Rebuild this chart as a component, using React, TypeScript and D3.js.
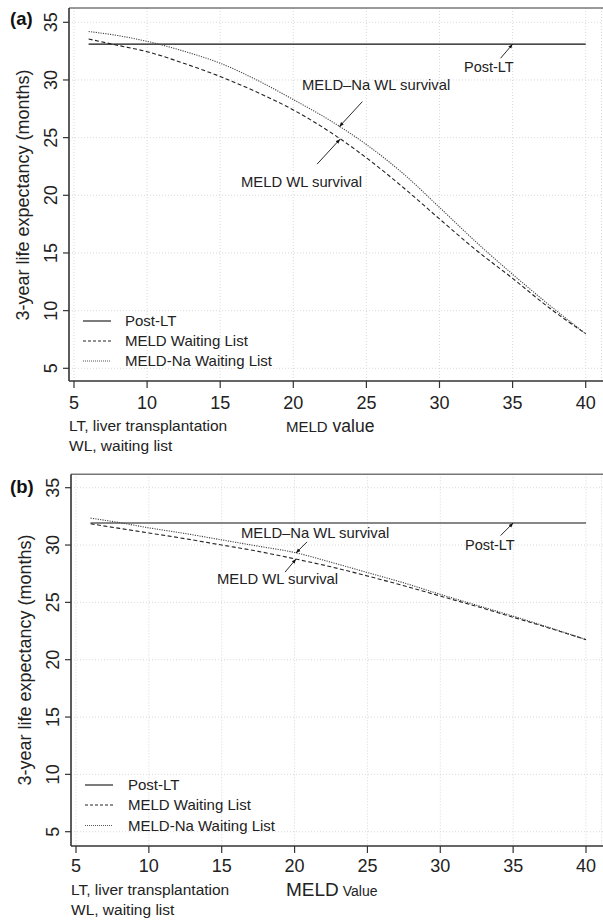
import React from "react";
import * as d3 from "d3";

// ---------------- DATA ----------------
const meldValues = [6, 8, 10, 12.5, 15, 17.5, 20, 22.5, 25, 27.5, 30, 32.5, 35, 37.5, 40];
const postLtMeld = [6, 40];

// Panel (a)
const postLtA = [33.1, 33.1];
const meldWlA = [33.55, 33.0, 32.45, 31.45, 30.3, 28.95, 27.4, 25.5, 23.25, 20.7, 17.95, 15.25, 12.8, 10.25, 8.0];
const meldNaA = [34.2, 33.85, 33.35, 32.5, 31.45, 30.0, 28.3, 26.5, 24.4, 21.9, 18.95, 15.95, 13.15, 10.5, 8.0];

// Panel (b)
const postLtB = [31.92, 31.92];
const meldWlB = [31.85, 31.45, 31.05, 30.55, 30.0, 29.45, 28.8, 28.1, 27.3, 26.45, 25.55, 24.65, 23.7, 22.75, 21.75];
const meldNaB = [32.35, 31.95, 31.5, 31.0, 30.45, 29.9, 29.35, 28.5, 27.6, 26.7, 25.7, 24.75, 23.8, 22.8, 21.75];

const xTicks = [5, 10, 15, 20, 25, 30, 35, 40];
const yTicks = [5, 10, 15, 20, 25, 30, 35];
const legendLabels = ["Post-LT", "MELD Waiting List", "MELD-Na Waiting List"];
const yTitle = "3-year life expectancy (months)";
const noteLines = ["LT, liver transplantation", "WL, waiting list"];

const FONT = "Liberation Sans, Arial, Helvetica, sans-serif";

type Cfg = {
  tag: string;
  post: number[];
  wl: number[];
  na: number[];
  xr: [number, number];
  yr: [number, number];
  fL: number; fT: number; fB: number;
  xlab: [string, number, string, number];
  xlabBase: number;
  tickBase: number;
  yTickX: number;
  yTitleX: number; yTitleY: number;
  tagBase: number;
  noteBase: [number, number];
  legX: number; legTextX: number; legY: number[];
  ann: {
    post: { tx: number; lx: number; ly: number; dx: number; dy: number };
    na: { at: number; text: [number, number]; dx: number; dy: number };
    wl: { at: number; text: [number, number]; dx: number; dy: number };
  };
};

const cfgA: Cfg = {
  tag: "(a)", post: postLtA, wl: meldWlA, na: meldNaA,
  xr: [74, 585.7], yr: [368.3, 22.3], fL: 69, fT: 8, fB: 381,
  xlab: ["MELD", 15, "value", 17.5], xlabBase: 431.5, tickBase: 408.5,
  yTickX: 57, yTitleX: 29, yTitleY: 195, tagBase: 25,
  noteBase: [431, 450.5],
  legX: 83, legTextX: 125, legY: [321, 341, 361],
  ann: {
    post: { tx: 35, lx: 464, ly: 71.5, dx: -12, dy: 14 },
    na: { at: 23.15, text: [302, 90], dx: 23, dy: -25 },
    wl: { at: 23.2, text: [241, 186.5], dx: -23, dy: 25 },
  },
};

const cfgB: Cfg = {
  tag: "(b)", post: postLtB, wl: meldWlB, na: meldNaB,
  xr: [76, 586], yr: [831.7, 487.7], fL: 71, fT: 474.3, fB: 846,
  xlab: ["MELD", 19, "Value", 14], xlabBase: 896, tickBase: 872,
  yTickX: 59, yTitleX: 31, yTitleY: 660, tagBase: 493,
  noteBase: [895, 914.5],
  legX: 85, legTextX: 128, legY: [785, 805, 825.5],
  ann: {
    post: { tx: 35, lx: 465, ly: 549.5, dx: -12.5, dy: 12.5 },
    na: { at: 20.1, text: [241, 538], dx: 11, dy: -11 },
    wl: { at: 20.1, text: [217, 584], dx: -11, dy: 13 },
  },
};

const W = 603;
const H = 920;

function interp(xs: number[], ys: number[], v: number) {
  const s = d3.scaleLinear().domain(xs).range(ys);
  return s(v);
}

function Panel({ c, id }: { c: Cfg; id: string }) {
  const x = d3.scaleLinear().domain([5, 40]).range(c.xr);
  const y = d3.scaleLinear().domain([5, 35]).range(c.yr);
  const line = d3
    .line<[number, number]>()
    .x((d) => x(d[0]))
    .y((d) => y(d[1]))
    .curve(d3.curveMonotoneX);
  const postPts = postLtMeld.map((m, i) => [m, c.post[i]] as [number, number]);
  const wlPts = meldValues.map((m, i) => [m, c.wl[i]] as [number, number]);
  const naPts = meldValues.map((m, i) => [m, c.na[i]] as [number, number]);

  const styles = [
    { stroke: "#111", dash: undefined as string | undefined, w: 1.2 },
    { stroke: "#222", dash: "4,2.5", w: 1.1 },
    { stroke: "#444", dash: "1.2,1.2", w: 1.1 },
  ];
  const legStyles = [
    { stroke: "#111", dash: undefined as string | undefined, w: 1.1 },
    { stroke: "#222", dash: "3,2", w: 1 },
    { stroke: "#555", dash: "1,1", w: 1 },
  ];

  const postTip = [x(c.ann.post.tx), y(c.post[0])];
  const naTip = [x(c.ann.na.at), y(interp(meldValues, c.na, c.ann.na.at))];
  const wlTip = [x(c.ann.wl.at), y(interp(meldValues, c.wl, c.ann.wl.at))];
  const arrows = [
    { tip: postTip, d: [c.ann.post.dx, c.ann.post.dy] },
    { tip: naTip, d: [c.ann.na.dx, c.ann.na.dy] },
    { tip: wlTip, d: [c.ann.wl.dx, c.ann.wl.dy] },
  ];

  return (
    <g fontFamily={FONT} fill="#222">
      <defs>
        <marker id={`arr-${id}`} viewBox="0 0 10 10" refX="10" refY="5" markerWidth="5" markerHeight="5" orient="auto">
          <path d="M0,1 L10,5 L0,9 z" fill="#111" />
        </marker>
      </defs>
      {/* grid */}
      {xTicks.map((t) => (
        <line key={"gx" + t} x1={x(t)} x2={x(t)} y1={c.fT} y2={c.fB} stroke="#cfcfcf" strokeWidth={0.8} strokeDasharray="1,2" />
      ))}
      <line x1={601.5} x2={601.5} y1={c.fT} y2={c.fB} stroke="#cfcfcf" strokeWidth={0.8} strokeDasharray="1,2" />
      {yTicks.map((t) => (
        <line key={"gy" + t} x1={c.fL} x2={W} y1={y(t)} y2={y(t)} stroke="#cfcfcf" strokeWidth={0.8} strokeDasharray="1,2" />
      ))}
      {/* frame */}
      <line x1={c.fL} x2={W} y1={c.fT} y2={c.fT} stroke="#777" strokeWidth={1.4} />
      <line x1={c.fL} x2={c.fL} y1={c.fT} y2={c.fB} stroke="#333" strokeWidth={1.6} />
      <line x1={c.fL} x2={W} y1={c.fB} y2={c.fB} stroke="#333" strokeWidth={1.6} />
      {/* ticks */}
      {xTicks.map((t) => (
        <g key={"tx" + t}>
          <line x1={x(t)} x2={x(t)} y1={c.fB} y2={c.fB + 7} stroke="#333" strokeWidth={1.2} />
          <text x={x(t)} y={c.tickBase} fontSize={18} textAnchor="middle">{t}</text>
        </g>
      ))}
      {yTicks.map((t) => (
        <g key={"ty" + t}>
          <line x1={c.fL - 6} x2={c.fL} y1={y(t)} y2={y(t)} stroke="#333" strokeWidth={1.2} />
          <text transform={`translate(${c.yTickX},${y(t)}) rotate(-90)`} fontSize={18} textAnchor="middle">{t}</text>
        </g>
      ))}
      {/* y title */}
      <text transform={`translate(${c.yTitleX},${c.yTitleY}) rotate(-90)`} fontSize={18} textAnchor="middle">{yTitle}</text>
      {/* tag */}
      <text x={10} y={c.tagBase} fontSize={18.5} fontWeight="bold" fill="#111">{c.tag}</text>
      {/* x label */}
      <text x={286} y={c.xlabBase}>
        <tspan fontSize={c.xlab[1]}>{c.xlab[0]}</tspan>
        <tspan fontSize={c.xlab[3]}>{" " + c.xlab[2]}</tspan>
      </text>
      {/* notes */}
      {noteLines.map((n, i) => (
        <text key={n} x={c.fL} y={c.noteBase[i]} fontSize={15.5}>{n}</text>
      ))}
      {/* series */}
      <path d={line(postPts) || ""} fill="none" stroke={styles[0].stroke} strokeWidth={styles[0].w} />
      <path d={line(wlPts) || ""} fill="none" stroke={styles[1].stroke} strokeWidth={styles[1].w} strokeDasharray={styles[1].dash} />
      <path d={line(naPts) || ""} fill="none" stroke={styles[2].stroke} strokeWidth={styles[2].w} strokeDasharray={styles[2].dash} />
      {/* legend */}
      {legendLabels.map((l, i) => (
        <g key={l}>
          <line x1={c.legX} x2={c.legX + 28} y1={c.legY[i]} y2={c.legY[i]} stroke={legStyles[i].stroke} strokeWidth={legStyles[i].w} strokeDasharray={legStyles[i].dash} />
          <text x={c.legTextX} y={c.legY[i] + 5.2} fontSize={15}>{l}</text>
        </g>
      ))}
      {/* annotations */}
      {arrows.map((a, i) => (
        <line key={"ar" + i} x1={a.tip[0] + a.d[0]} y1={a.tip[1] + a.d[1]} x2={a.tip[0]} y2={a.tip[1]} stroke="#111" strokeWidth={0.9} markerEnd={`url(#arr-${id})`} />
      ))}
      <text x={c.ann.post.lx} y={c.ann.post.ly} fontSize={14.5}>Post-LT</text>
      <text x={c.ann.na.text[0]} y={c.ann.na.text[1]} fontSize={14.8}>MELD–Na WL survival</text>
      <text x={c.ann.wl.text[0]} y={c.ann.wl.text[1]} fontSize={14.8}>MELD WL survival</text>
    </g>
  );
}

export default function App() {
  return (
    <svg width={W} height={H} viewBox={`0 0 ${W} ${H}`} style={{ position: "absolute", left: 0, top: 0, background: "#fff" }}>
      <rect width={W} height={H} fill="#fff" />
      <Panel c={cfgA} id="a" />
      <Panel c={cfgB} id="b" />
    </svg>
  );
}
